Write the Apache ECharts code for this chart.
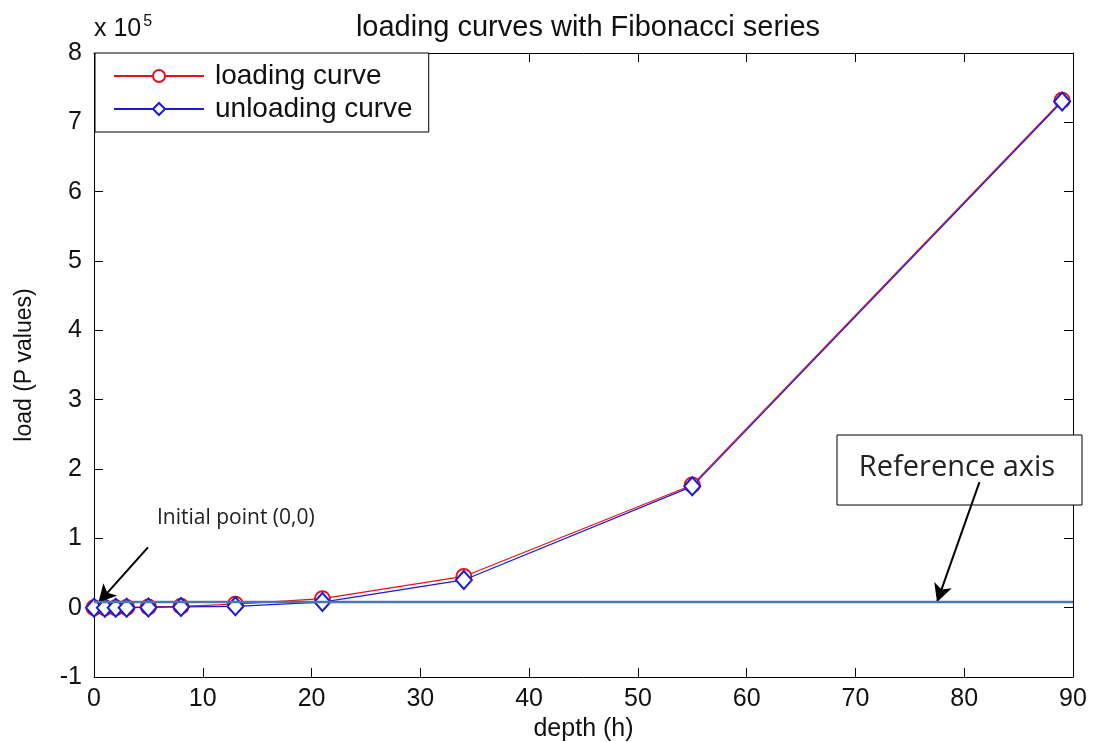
<!DOCTYPE html>
<html>
<head>
<meta charset="utf-8">
<script src="https://cdn.jsdelivr.net/npm/echarts@6/dist/echarts.min.js"></script>
<style>html,body{margin:0;padding:0;background:#fff}#c{width:1096px;height:742px}</style>
</head>
<body>
<div id="c"></div>
<script>
// depth values (Fibonacci series)
const depth = [0, 1, 2, 3, 5, 8, 13, 21, 34, 55, 89];
// load values
const loadingCurve = [0, 0, 0, 300, 1000, 2000, 5000, 13000, 45000, 177000, 732000];
const unloadingCurve = [0, 0, 0, 0, 300, 1000, 2000, 8000, 40000, 175000, 730000];
// reference axis (horizontal line)
const refAxisX = [0, 90];
const refAxisY = [8000, 8000];
// annotation arrows [start, tip] in data units
const initArrow = [[4.96, 87000], [0.4, 7000]];
const refArrow = [[81.4, 181000], [77.5, 8000]];

const zip = (a, b) => a.map((v, i) => [v, b[i]]);
const font = '"Liberation Sans", Arial, sans-serif';

const chart = echarts.init(document.getElementById('c'));
const axisCommon = {
  axisLine: { show: true, onZero: false, lineStyle: { color: '#000', width: 1 } },
  axisTick: { show: true, inside: true, length: 9, lineStyle: { color: '#000' } },
  splitLine: { show: false }
};
chart.setOption({
  animation: false,
  backgroundColor: '#fff',
  title: {
    text: 'loading curves with Fibonacci series',
    left: 583, top: 8, textAlign: 'center',
    textStyle: { fontFamily: font, fontSize: 29, fontWeight: 'normal', color: '#111' }
  },
  grid: { left: 94, right: 23, top: 53, bottom: 65, show: false, outerBoundsMode: 'none', containLabel: false },
  legend: {
    data: ['loading curve', 'unloading curve'],
    orient: 'vertical', left: 95, top: 53,
    itemWidth: 90, itemHeight: 15, itemGap: 5,
    padding: [9, 16, 9, 18],
    borderColor: '#000', borderWidth: 1, backgroundColor: '#fff',
    textStyle: { fontFamily: font, fontSize: 28, color: '#111', padding: [0, 0, 0, 6] }
  },
  xAxis: [
    Object.assign({ type: 'value', min: 0, max: 90, interval: 10, position: 'bottom',
      name: 'depth (h)', nameLocation: 'middle', nameGap: 40,
      nameTextStyle: { fontFamily: font, fontSize: 25, color: '#111' },
      axisLabel: { fontFamily: font, fontSize: 25, color: '#111', margin: 10 } }, axisCommon),
    Object.assign({ type: 'value', min: 0, max: 90, interval: 10, position: 'top',
      axisLabel: { show: false } }, axisCommon)
  ],
  yAxis: [
    Object.assign({ type: 'value', min: -100000, max: 800000, interval: 100000, position: 'left',
      name: 'load (P values)', nameLocation: 'middle', nameGap: 58, nameRotate: 90,
      nameTextStyle: { fontFamily: font, fontSize: 23, color: '#111' },
      axisLabel: { fontFamily: font, fontSize: 25, color: '#111', margin: 12,
        formatter: v => String(Math.round(v / 100000)) } }, axisCommon),
    Object.assign({ type: 'value', min: -100000, max: 800000, interval: 100000, position: 'right',
      axisLabel: { show: false } }, axisCommon)
  ],
  graphic: [
    { type: 'text', left: 94, top: 14, z: 10,
      style: { text: 'x 10{s|5}', font: '25px ' + font, fill: '#111',
        rich: { s: { fontSize: 16, fontFamily: font, verticalAlign: 'top', padding: [0, 0, 14, 2] } } } },
    { type: 'text', left: 157, top: 508, z: 10,
      style: { text: 'Initial point (0,0)', font: '21px "Open Sans", sans-serif', fill: '#222' } },
    { type: 'rect', shape: { x: 837, y: 435, width: 245, height: 70 }, z: 1,
      style: { fill: '#fff', stroke: '#000', lineWidth: 1 } },
    { type: 'text', x: 957, y: 468, z: 10,
      style: { text: 'Reference axis', font: '29px "Open Sans", sans-serif', fill: '#222',
        textAlign: 'center', textVerticalAlign: 'middle' } }
  ],
  series: [
    {
      name: 'loading curve', type: 'line', data: zip(depth, loadingCurve),
      symbol: 'emptyCircle', symbolSize: 15, showAllSymbol: true,
      lineStyle: { color: '#e8101c', width: 1.2 },
      itemStyle: { color: '#e8101c', borderWidth: 1.1 }, z: 3
    },
    {
      name: 'unloading curve', type: 'line', data: zip(depth, unloadingCurve),
      symbol: 'emptyDiamond', symbolSize: [16, 18], showAllSymbol: true,
      lineStyle: { color: '#1a1ad8', width: 1.2 },
      itemStyle: { color: '#1a1ad8', borderWidth: 1.1 }, z: 4
    },
    {
      name: 'reference axis', type: 'line', data: zip(refAxisX, refAxisY),
      showSymbol: false, symbol: 'none',
      lineStyle: { color: '#4a78ad', width: 2.5 }, z: 5,
      markLine: {
        silent: true, symbol: ['none', 'arrow'], symbolSize: [14, 18],
        label: { show: false },
        lineStyle: { color: '#000', width: 2, type: 'solid' },
        data: [
          [{ coord: initArrow[0] }, { coord: initArrow[1] }],
          [{ coord: refArrow[0] }, { coord: refArrow[1] }]
        ]
      }
    }
  ]
});
</script>
</body>
</html>
